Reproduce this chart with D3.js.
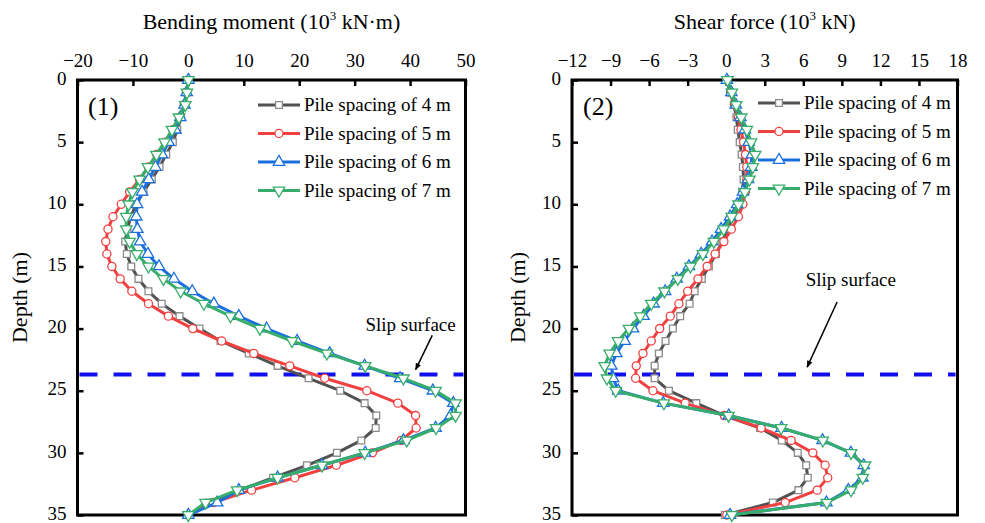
<!DOCTYPE html>
<html>
<head>
<meta charset="utf-8">
<script src="https://cdn.jsdelivr.net/npm/d3@7"></script>
<style>
  body { margin: 0; background: #fff; }
  svg text { font-family: "Liberation Serif", "Times New Roman", serif; fill: #000; }
</style>
</head>
<body>
<svg id="chart" width="985" height="523"></svg>
<script>
/* global d3 */

// depth of each measuring point (m)
var depths = d3.range(0, 36);

var seriesNames = ["Pile spacing of 4 m", "Pile spacing of 5 m",
                   "Pile spacing of 6 m", "Pile spacing of 7 m"];

// bending moment (10^3 kN·m)
var moment4 = [0, -0.3, -0.65, -1.3, -2.0, -2.8, -4.0, -5.2, -6.6, -8.1, -9.4, -10.4,
  -11.0, -11.4, -11.1, -10.3, -9.0, -7.2, -4.8, -1.6, 2.0, 5.8, 10.9, 16.1, 21.7,
  27.4, 31.8, 33.9, 33.8, 31.2, 26.8, 21.4, 15.3, 9.3, 3.6, 0];
var moment5 = [0, -0.35, -0.75, -1.6, -2.8, -4.2, -5.7, -7.2, -8.8, -10.6, -12.1, -13.6,
  -14.5, -14.9, -14.7, -13.8, -12.3, -10.2, -7.2, -3.6, 0.8, 6.0, 11.8, 18.3, 24.6,
  32.2, 37.8, 41.0, 41.1, 38.4, 33.2, 26.7, 19.2, 11.4, 4.5, 0];
var moment6 = [0, -0.3, -0.7, -1.45, -2.35, -3.55, -4.75, -5.95, -7.15, -8.35, -9.25, -9.4,
  -9.2, -8.7, -7.3, -5.3, -2.6, 0.7, 4.6, 9.1, 14.1, 19.6, 25.5, 31.8, 38.2,
  44.1, 47.8, 47.3, 44.6, 38.8, 31.9, 24.1, 16.1, 9.1, 5.2, 0];
var moment7 = [0, -0.25, -0.55, -1.7, -2.95, -4.3, -5.75, -7.3, -8.8, -10.1, -10.8, -11.2,
  -11.2, -10.6, -9.3, -7.2, -4.5, -1.4, 2.8, 7.6, 12.9, 18.7, 25.0, 31.9, 38.8,
  44.6, 48.2, 48.2, 44.7, 39.4, 31.8, 24.1, 16.1, 8.8, 3.1, 0];

// shear force (10^3 kN)
var shear4 = [0.05, 0.3, 0.6, 0.8, 0.9, 1.05, 1.2, 1.3, 1.35, 1.25, 1.0, 0.6,
  0.1, -0.3, -0.8, -1.35, -1.9, -2.46, -2.85, -3.58, -4.15, -4.72, -5.24, -5.57, -5.57,
  -4.46, -2.33, -0.13, 2.64, 4.33, 5.57, 6.22, 6.35, 5.62, 3.63, -0.1];
var shear5 = [0.05, 0.35, 0.65, 0.95, 1.15, 1.35, 1.5, 1.6, 1.6, 1.5, 1.3, 0.95,
  0.4, -0.18, -0.86, -1.48, -2.2, -3.0, -3.68, -4.35, -5.18, -5.83, -6.48, -7.0, -7.05,
  -5.7, -3.19, -0.13, 2.72, 5.05, 6.74, 7.7, 7.9, 7.08, 4.59, 0.05];
var shear6 = [0.05, 0.4, 0.75, 1.1, 1.45, 1.75, 2.0, 1.95, 1.7, 1.3, 0.85, 0.3,
  -0.4, -1.1, -1.95, -2.9, -3.85, -4.75, -5.65, -6.43, -7.25, -7.9, -8.55, -8.94, -8.8,
  -8.4, -4.9, 0.2, 4.3, 7.5, 9.7, 10.7, 10.6, 9.5, 7.8, 0.3];
var shear7 = [0.1, 0.44, 0.78, 1.17, 1.61, 1.94, 2.26, 2.07, 1.81, 1.45, 0.95, 0.42,
  -0.2, -0.96, -1.81, -2.78, -3.76, -4.8, -5.83, -6.69, -7.57, -8.42, -9.07, -9.46, -9.28,
  -8.6, -4.85, 0.18, 4.28, 7.52, 9.72, 10.81, 10.63, 9.72, 7.83, 0.44];

var momentTicks = [-20, -10, 0, 10, 20, 30, 40, 50];
var shearTicks = [-12, -9, -6, -3, 0, 3, 6, 9, 12, 15, 18];
var depthTicks = [0, 5, 10, 15, 20, 25, 30, 35];
var slipDepth = 23.7;

/*
** Styles
*/
var colors = ["#515151", "#F14040", "#1A6FDF", "#37AD6B"]
  , markerStroke = ["#8a8a8a", "#F14040", "#1A6FDF", "#37AD6B"]
  , symbols = [d3.symbolSquare, d3.symbolCircle, d3.symbolTriangle, d3.symbolTriangle]
  , sizes = [46, 52, 56, 56]
  , flips = [0, 0, 0, 180]
;

var svg = d3.select("#chart");

svg.append("defs").append("marker")
    .attr("id", "arrow")
    .attr("viewBox", "0 0 10 10")
    .attr("refX", 9).attr("refY", 5)
    .attr("markerWidth", 9).attr("markerHeight", 7)
    .attr("markerUnits", "userSpaceOnUse")
    .attr("orient", "auto")
  .append("path")
    .attr("d", "M0,1 L10,5 L0,9 Z")
    .attr("fill", "#000");

function styleAxis(sel) {
  sel.attr("font-family", null).attr("font-size", null);
  sel.select(".domain").remove();
  sel.selectAll(".tick line").attr("stroke-width", 2.5);
  sel.selectAll(".tick text").style("font-size", "19px");
}

function drawPanel(cfg) {
  var x = d3.scaleLinear().domain(cfg.domain).range(cfg.xRange)
    , y = d3.scaleLinear().domain([0, 35]).range([80, 515])
    , g = svg.append("g")
    , x0 = cfg.xRange[0], x1 = cfg.xRange[1]
  ;

  // frame
  g.append("rect")
      .attr("x", x0).attr("y", y(0))
      .attr("width", x1 - x0).attr("height", y(35) - y(0))
      .attr("fill", "none").attr("stroke", "#000").attr("stroke-width", 3);

  // top axis, ticks point inward
  g.append("g")
      .attr("transform", "translate(0," + y(0) + ")")
      .call(d3.axisTop(x).tickValues(cfg.ticks).tickSizeInner(-6)
              .tickSizeOuter(0).tickPadding(13))
      .call(styleAxis);

  // left axis, ticks point inward
  var left = g.append("g")
      .attr("transform", "translate(" + x0 + ",0)")
      .call(d3.axisLeft(y).tickValues(depthTicks).tickSizeInner(-6)
              .tickSizeOuter(0).tickPadding(11))
      .call(styleAxis);
  left.selectAll(".tick text").attr("dy", "0.22em");

  // axis titles
  var title = g.append("text")
      .attr("x", (x0 + x1) / 2).attr("y", 29)
      .attr("text-anchor", "middle").style("font-size", "22px");
  title.append("tspan").text(cfg.title[0]);
  title.append("tspan").style("font-size", "13px").attr("dy", -9).text("3");
  title.append("tspan").attr("dy", 9).text(cfg.title[1]);

  g.append("text")
      .attr("transform", "translate(" + cfg.depthLabelX + "," + (y(0) + y(35)) / 2 + ") rotate(-90)")
      .attr("text-anchor", "middle").style("font-size", "22px")
      .text("Depth (m)");

  // slip surface
  g.append("line")
      .attr("x1", x0 + 2).attr("x2", x1 - 2)
      .attr("y1", y(slipDepth)).attr("y2", y(slipDepth))
      .attr("stroke", "#1010ee").attr("stroke-width", 4)
      .attr("stroke-dasharray", "18,16");

  g.append("text")
      .attr("x", x(cfg.slipText[0])).attr("y", y(cfg.slipText[1]))
      .attr("text-anchor", "middle").style("font-size", "19px")
      .text("Slip surface");
  g.append("line")
      .attr("x1", x(cfg.arrow[0])).attr("y1", y(cfg.arrow[1]))
      .attr("x2", x(cfg.arrow[2])).attr("y2", y(cfg.arrow[3]))
      .attr("stroke", "#000").attr("stroke-width", 1.5)
      .attr("marker-end", "url(#arrow)");

  // series
  var line = d3.line()
      .x(function(d) { return x(d[0]); })
      .y(function(d) { return y(d[1]); });

  cfg.series.forEach(function(vals, i) {
    var pts = vals.map(function(v, j) { return [v, depths[j]]; });
    var s = g.append("g").attr("class", "series-" + i);
    s.append("path")
        .datum(pts)
        .attr("d", line)
        .attr("fill", "none")
        .attr("stroke", colors[i]).attr("stroke-width", 3)
        .attr("stroke-linejoin", "round");
    s.selectAll("path.pt")
        .data(pts)
      .enter().append("path")
        .attr("class", "pt")
        .attr("d", d3.symbol().type(symbols[i]).size(sizes[i]))
        .attr("transform", function(d) {
          return "translate(" + x(d[0]) + "," + y(d[1]) + ") rotate(" + flips[i] + ")";
        })
        .attr("fill", "#fff")
        .attr("stroke", markerStroke[i]).attr("stroke-width", 1.3);
  });

  // panel label
  g.append("text")
      .attr("x", cfg.labelX).attr("y", 115)
      .style("font-size", "26px")
      .text(cfg.label);

  // legend
  var lg = g.append("g")
      .attr("transform", "translate(" + cfg.legendX + ",0)");
  seriesNames.forEach(function(name, i) {
    var ly = cfg.legendY + i * 28.5;
    lg.append("line")
        .attr("x1", 0).attr("x2", 42).attr("y1", ly).attr("y2", ly)
        .attr("stroke", colors[i]).attr("stroke-width", 3);
    lg.append("path")
        .attr("d", d3.symbol().type(symbols[i]).size(sizes[i]))
        .attr("transform", "translate(21," + ly + ") rotate(" + flips[i] + ")")
        .attr("fill", "#fff")
        .attr("stroke", markerStroke[i]).attr("stroke-width", 1.3);
    lg.append("text")
        .attr("x", 46).attr("y", ly + 6)
        .style("font-size", "19px")
        .text(name);
  });
}

drawPanel({
  domain: [-20, 50], xRange: [77.5, 465.5], ticks: momentTicks,
  title: ["Bending moment (10", " kN\u00B7m)"],
  depthLabelX: 27,
  series: [moment4, moment5, moment6, moment7],
  slipText: [40.1, 20.2], arrow: [44.0, 20.55, 41.0, 23.3],
  label: "(1)", labelX: 88,
  legendX: 258, legendY: 105
});

drawPanel({
  domain: [-12, 18], xRange: [572, 957.5], ticks: shearTicks,
  title: ["Shear force (10", " kN)"],
  depthLabelX: 525,
  series: [shear4, shear5, shear6, shear7],
  slipText: [9.7, 16.6], arrow: [8.63, 17.86, 6.3, 23.1],
  label: "(2)", labelX: 583,
  legendX: 758, legendY: 103
});
</script>
</body>
</html>
